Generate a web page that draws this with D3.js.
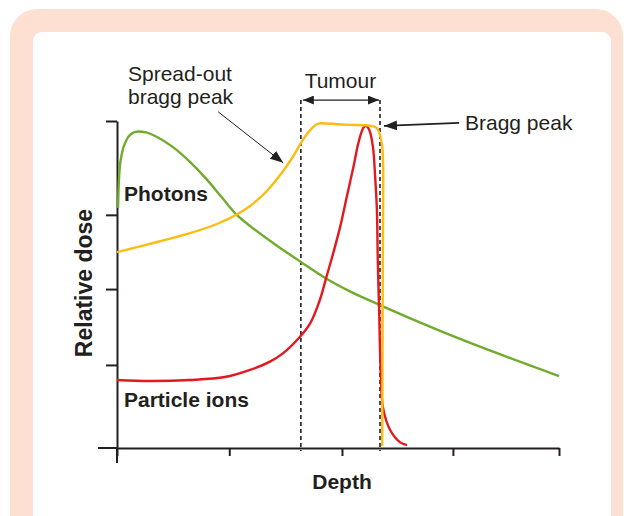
<!DOCTYPE html>
<html>
<head>
<meta charset="utf-8">
<script src="https://cdn.jsdelivr.net/npm/d3@7"></script>
<style>
  html, body { margin: 0; padding: 0; background: #fff; }
  svg { display: block; }
  text { font-family: "Liberation Sans", Arial, Helvetica, sans-serif; fill: #231f20; }
</style>
</head>
<body>
<svg id="chart" width="624" height="516"></svg>
<script>
// ---- data (depth in % of axis, relative dose in % of axis) ----
const photonDepth = [0.23, 0.34, 0.57, 1.13, 2.04, 3.17, 4.75, 6.56, 9.05, 12.67, 16.5, 20.4, 23.8, 27.1, 30.1, 35.3, 41.6, 47.5, 52.7, 59.5, 73.1, 100];
const photonDose  = [73.4, 78.9, 85.0, 90.2, 93.9, 96.0, 96.8, 96.5, 95.1, 92.0, 87.5, 82.0, 76.5, 71.3, 67.9, 62.7, 56.9, 51.7, 47.9, 43.7, 35.8, 22.0];

const sobpDepth = [0, 9.05, 16.5, 22.6, 27.1, 30.1, 33.9, 37.6, 39.9, 41.8, 43.7, 45.2, 46.3, 49.7, 52.7, 57.2, 58.8, 59.9, 60.2, 60.2, 60.1, 60.0];
const sobpDose  = [59.9, 63.0, 65.7, 68.5, 71.4, 74.0, 78.6, 84.7, 89.3, 93.7, 97.2, 99.0, 99.3, 99.0, 98.8, 98.6, 97.8, 93.2, 87.1, 72.8, 42.2, 0.6];

const ionDepth = [0, 7.47, 16.5, 24.4, 30.1, 34.6, 37.6, 41.4, 43.7, 45.9, 47.4, 48.9, 50.5, 52.0, 53.5, 54.6, 55.7, 56.3, 57.1, 57.9, 58.4, 58.8, 59.0, 59.3, 59.7, 60.2, 61.8, 64.0, 65.6];
const ionDose  = [20.8, 20.5, 20.8, 21.7, 23.9, 26.4, 29.0, 34.0, 38.1, 45.3, 52.4, 59.5, 67.7, 76.9, 86.0, 93.2, 97.8, 98.5, 97.2, 92.1, 83.0, 72.8, 57.5, 42.2, 21.8, 12.2, 5.5, 1.8, 0.9];

const xTickValues = [0, 25.4, 50.9, 76.0, 100];
const yTickValues = [25.4, 48.6, 71.3, 100];

const tumourStart = 41.6, tumourEnd = 59.5;

const labels = {
  photons: "Photons",
  ions: "Particle ions",
  sobp: ["Spread-out", "bragg peak"],
  tumour: "Tumour",
  bragg: "Bragg peak",
  xTitle: "Depth",
  yTitle: "Relative dose"
};

// ---- drawing ----
const svg = d3.select("#chart");
const W = 624, H = 516;
const margin = { left: 117, right: 65, top: 121, bottom: 68 };

const colors = { photon: "#70ab2e", sobp: "#fdbb13", ion: "#e3191f", ink: "#231f20", peach: "#fde0d1" };

// frame
svg.append("rect").attr("x", 10).attr("y", 9).attr("width", 613).attr("height", 560)
  .attr("rx", 27).attr("fill", colors.peach);
svg.append("rect").attr("x", 33).attr("y", 32).attr("width", 578).attr("height", 540)
  .attr("rx", 9).attr("fill", "#fff");

const x = d3.scaleLinear().domain([0, 100]).range([margin.left, W - margin.right]);
const y = d3.scaleLinear().domain([0, 100]).range([H - margin.bottom, margin.top]);

// defs: arrow markers
const defs = svg.append("defs");
function marker(id, len, wid) {
  defs.append("marker").attr("id", id)
    .attr("markerUnits", "userSpaceOnUse")
    .attr("viewBox", `0 ${-wid / 2} ${len} ${wid}`)
    .attr("refX", len).attr("refY", 0)
    .attr("markerWidth", len).attr("markerHeight", wid)
    .attr("orient", "auto-start-reverse")
    .append("path").attr("d", `M0,${-wid / 2}L${len},0L0,${wid / 2}Z`).attr("fill", colors.ink);
}
marker("headBig", 13, 10);
marker("headMid", 11, 9);

// axes
const xAxis = d3.axisBottom(x).tickValues(xTickValues).tickSize(8).tickSizeOuter(0).tickFormat("");
const yAxis = d3.axisLeft(y).tickValues(yTickValues).tickSize(11).tickSizeOuter(0).tickFormat("");

const gx = svg.append("g").attr("transform", `translate(0,${y(0)})`).call(xAxis);
const gy = svg.append("g").attr("transform", `translate(${x(0)},0)`).call(yAxis);
[gx, gy].forEach(g => {
  g.selectAll("path, line").attr("stroke", colors.ink).attr("stroke-width", 2);
});
// axis extensions (cross at origin)
svg.append("line").attr("x1", x(0) - 19).attr("x2", x(0)).attr("y1", y(0)).attr("y2", y(0))
  .attr("stroke", colors.ink).attr("stroke-width", 2);
svg.append("line").attr("x1", x(0)).attr("x2", x(0)).attr("y1", y(0)).attr("y2", y(0) + 15)
  .attr("stroke", colors.ink).attr("stroke-width", 2);

// tumour dashed boundaries
const dashTop = 106.4, dashBottom = -0.9;
[tumourStart, tumourEnd].forEach(d => {
  svg.append("line").attr("x1", x(d)).attr("x2", x(d)).attr("y1", y(dashTop)).attr("y2", y(dashBottom))
    .attr("stroke", colors.ink).attr("stroke-width", 1.6).attr("stroke-dasharray", "4,3");
});

// curves
const smooth = d3.line().x(d => x(d[0])).y(d => y(d[1])).curve(d3.curveCatmullRom.alpha(0.5));
const mono = d3.line().x(d => x(d[0])).y(d => y(d[1])).curve(d3.curveMonotoneX);
function series(xs, ys) { return xs.map((v, i) => [v, ys[i]]); }

svg.append("path").datum(series(photonDepth, photonDose)).attr("d", mono)
  .attr("fill", "none").attr("stroke", colors.photon).attr("stroke-width", 2.4);
svg.append("path").datum(series(ionDepth, ionDose)).attr("d", smooth)
  .attr("fill", "none").attr("stroke", colors.ion).attr("stroke-width", 2.4);
svg.append("path").datum(series(sobpDepth, sobpDose)).attr("d", smooth)
  .attr("fill", "none").attr("stroke", colors.sobp).attr("stroke-width", 2.4);

// tumour arrow
svg.append("line")
  .attr("x1", x(tumourStart) + 2).attr("x2", x(tumourEnd) - 1)
  .attr("y1", y(dashTop)).attr("y2", y(dashTop))
  .attr("stroke", colors.ink).attr("stroke-width", 1.3)
  .attr("marker-start", "url(#headMid)").attr("marker-end", "url(#headMid)");

// bragg peak arrow
svg.append("line")
  .attr("x1", x(77.4)).attr("y1", y(99.4))
  .attr("x2", x(60.4)).attr("y2", y(98.5))
  .attr("stroke", colors.ink).attr("stroke-width", 1.8)
  .attr("marker-end", "url(#headBig)");

// spread-out arrow
svg.append("line")
  .attr("x1", x(22.9)).attr("y1", y(102.8))
  .attr("x2", x(37.6)).attr("y2", y(87.2))
  .attr("stroke", colors.ink).attr("stroke-width", 1)
  .attr("marker-end", "url(#headBig)");

// texts
svg.append("text").attr("x", 128).attr("y", 81).attr("font-size", 21).text(labels.sobp[0]);
svg.append("text").attr("x", 128).attr("y", 104).attr("font-size", 21).text(labels.sobp[1]);
svg.append("text").attr("x", (x(tumourStart) + x(tumourEnd)) / 2).attr("y", 88)
  .attr("text-anchor", "middle").attr("font-size", 21).text(labels.tumour);
svg.append("text").attr("x", 465).attr("y", 130).attr("font-size", 21).text(labels.bragg);
svg.append("text").attr("x", 124).attr("y", 201).attr("font-size", 21).attr("font-weight", "bold").text(labels.photons);
svg.append("text").attr("x", 124).attr("y", 407).attr("font-size", 21).attr("font-weight", "bold").text(labels.ions);
svg.append("text").attr("x", 342).attr("y", 489).attr("text-anchor", "middle")
  .attr("font-size", 21).attr("font-weight", "bold").text(labels.xTitle);
svg.append("text").attr("transform", `translate(92,283) rotate(-90)`).attr("text-anchor", "middle")
  .attr("font-size", 23).attr("font-weight", "bold").text(labels.yTitle);
</script>
</body>
</html>
